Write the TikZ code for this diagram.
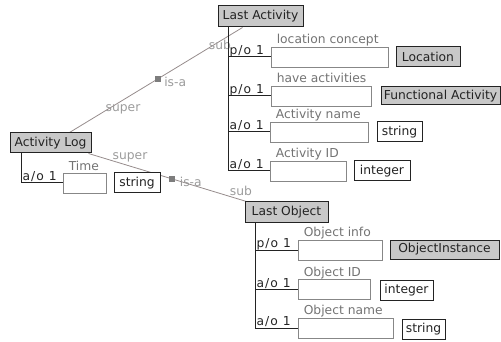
\documentclass[tikz,border=0pt]{standalone}
\usepackage{fontspec}
\setmainfont{DejaVu Sans}
\usetikzlibrary{backgrounds,calc}
\definecolor{isacol}{RGB}{150,140,140}
\definecolor{lblcol}{RGB}{155,155,155}
\definecolor{slotlbl}{RGB}{115,115,115}
\definecolor{headfill}{RGB}{200,200,200}
\definecolor{slotdraw}{RGB}{135,135,135}
\definecolor{markcol}{RGB}{125,125,125}
\definecolor{inkcol}{RGB}{35,35,35}
\begin{document}
\begin{tikzpicture}[x=1pt,y=-1pt,
  font=\fontsize{12.3}{14}\selectfont,
  head/.style={draw=inkcol,fill=headfill,line width=1pt,inner sep=0pt,minimum height=20pt,text=inkcol},
  typebox/.style={draw=inkcol,fill=white,line width=1pt,inner sep=0pt,minimum height=20pt,text=inkcol},
  slot/.style={draw=slotdraw,fill=white,line width=0.8pt,inner sep=0pt,minimum height=20pt},
  slotlabel/.style={text=slotlbl,anchor=base west,inner sep=0pt},
  card/.style={anchor=base west,inner sep=0pt,text=inkcol,font=\fontsize{12.3}{14}\selectfont\addfontfeature{LetterSpace=8}},
  tree/.style={draw=inkcol,line width=1pt},
  isa/.style={draw=isacol,line width=0.8pt},
  rolelabel/.style={text=lblcol,inner sep=0pt},
  marker/.style={fill=markcol,minimum size=6pt,inner sep=0pt}
]
\useasboundingbox (0,0) rectangle (501,342);

% class headings
\node[head,minimum width=85pt,minimum height=21pt] (LastAct) at (260.5,16.5) {Last Activity};
\node[head,minimum width=81pt] (ActLog) at (50.5,143) {Activity Log};
\node[head,minimum width=83pt] (LastObj) at (286.5,212) {Last Object};

% slots
\node[slot,minimum width=117pt] (s1) at (329.5,57) {};
\node[slot,minimum width=100pt] (s2) at (321,96) {};
\node[slot,minimum width=98pt] (s3) at (319,132) {};
\node[slot,minimum width=76pt] (s4) at (308,171) {};
\node[slot,minimum width=43pt] (t1) at (84.5,183) {};
\node[slot,minimum width=84pt] (o1) at (340,250) {};
\node[slot,minimum width=72pt] (o2) at (334,289.5) {};
\node[slot,minimum width=95pt] (o3) at (345.5,328) {};

% slot labels
\node[slotlabel] (s1l) at ($(s1.north west)+(6,-3)$) {location concept};
\node[slotlabel] (s2l) at ($(s2.north west)+(6,-3)$) {have activities};
\node[slotlabel] (s3l) at ($(s3.north west)+(6,-3)$) {Activity name};
\node[slotlabel] (s4l) at ($(s4.north west)+(6,-3)$) {Activity ID};
\node[slotlabel] (t1l) at ($(t1.north west)+(6,-2)$) {Time};
\node[slotlabel] (o1l) at ($(o1.north west)+(6,-3)$) {Object info};
\node[slotlabel] (o2l) at ($(o2.north west)+(6,-3)$) {Object ID};
\node[slotlabel] (o3l) at ($(o3.north west)+(6,-3)$) {Object name};

% types
\node[head,minimum width=64pt] (loc) at (428,57) {Location};
\node[head,minimum width=119pt,minimum height=18pt] (fa) at (440.5,96) {Functional Activity};
\node[typebox,minimum width=45pt] (str1) at (399.5,132) {string};
\node[typebox,minimum width=56pt] (int1) at (382,171) {integer};
\node[typebox,minimum width=46pt] (str0) at (137,183) {string};
\node[head,minimum width=109pt,minimum height=19pt] (oi) at (444.5,249.5) {ObjectInstance};
\node[typebox,minimum width=53pt] (int2) at (406.5,290) {integer};
\node[typebox,minimum width=43pt] (str2) at (423.5,329) {string};

% is-a connectors (behind)
\begin{scope}[on background layer]
\draw[isa] ($(ActLog.north west)+(60,0)$) coordinate (a1)
  -- node[pos=0.51,marker] (m1) {} ($(LastAct.south west)+(25,0)$) coordinate (a2);
\node[rolelabel,anchor=west] (isa1) at ($(m1.east)+(3,3)$) {is-a};
\node[rolelabel] (sup1) at (123,109) {super};
\node[rolelabel] (sub1) at (220,45) {sub};
\draw[isa] ($(ActLog.south east)+(-3,0)$) coordinate (b1)
  -- node[pos=0.53,marker] (m2) {} ($(LastObj.north west)+(2,0)$) coordinate (b2);
\node[rolelabel,anchor=west] (isa2) at ($(m2.east)+(4,3)$) {is-a};
\node[rolelabel] (sup2) at (130,157) {super};
\node[rolelabel] (sub2) at (241,191) {sub};
\end{scope}

% slot trees
\coordinate (va) at ($(LastAct.south west)+(11,0)$);
\draw[tree] (va) |- (s4.west);
\draw[tree] (va |- s1.west) -- (s1.west);
\draw[tree] (va |- s2.west) -- (s2.west);
\draw[tree] (va |- s3.west) -- (s3.west);
\node[card] (c1) at ($(va |- s1.west)+(1,-2.5)$) {p/o 1};
\node[card] (c2) at ($(va |- s2.west)+(1,-2.5)$) {p/o 1};
\node[card] (c3) at ($(va |- s3.west)+(1,-2.5)$) {a/o 1};
\node[card] (c4) at ($(va |- s4.west)+(1,-2.5)$) {a/o 1};

\coordinate (vb) at ($(ActLog.south west)+(12,0)$);
\draw[tree] (vb) |- (t1.west);
\node[card] (c5) at ($(vb |- t1.west)+(1,-2.5)$) {a/o 1};

\coordinate (vc) at ($(LastObj.south west)+(11,0)$);
\draw[tree] (vc) |- (o3.west);
\draw[tree] (vc |- o1.west) -- (o1.west);
\draw[tree] (vc |- o2.west) -- (o2.west);
\node[card] (c6) at ($(vc |- o1.west)+(1,-2.5)$) {p/o 1};
\node[card] (c7) at ($(vc |- o2.west)+(1,-2.5)$) {a/o 1};
\node[card] (c8) at ($(vc |- o3.west)+(1,-2.5)$) {a/o 1};
\end{tikzpicture}
\end{document}
